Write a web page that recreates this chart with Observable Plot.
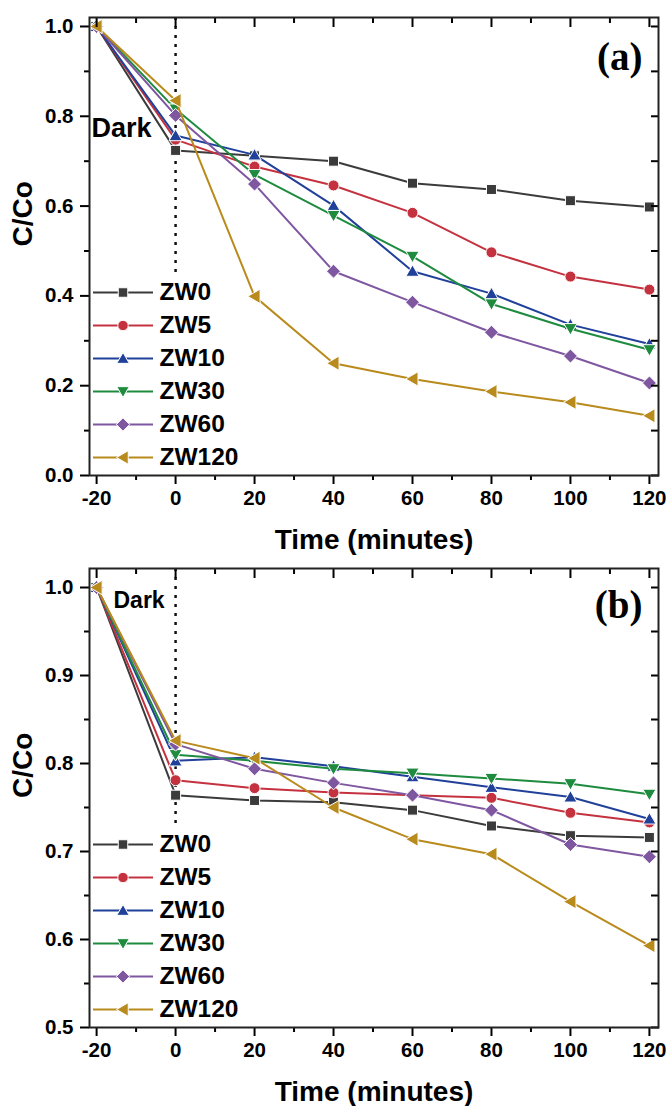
<!DOCTYPE html>
<html><head><meta charset="utf-8">
<script src="https://cdn.jsdelivr.net/npm/d3@7"></script>
<script src="https://cdn.jsdelivr.net/npm/@observablehq/plot@0.6"></script>
<style>body{margin:0;background:#fff} #chart svg{display:block}</style>
</head><body><div id="chart"></div>
<script>
// ---- data ----
const times = [-20, 0, 20, 40, 60, 80, 100, 120];
const seriesNames = ["ZW0", "ZW5", "ZW10", "ZW30", "ZW60", "ZW120"];
const seriesColors = ["#3b3b3b", "#c4323f", "#20409a", "#1e8b3f", "#7f57a1", "#b98a1c"];

// panel (a)
const a_ZW0   = [1.0, 0.724, 0.712, 0.700, 0.651, 0.637, 0.612, 0.598];
const a_ZW5   = [1.0, 0.748, 0.688, 0.646, 0.585, 0.497, 0.443, 0.414];
const a_ZW10  = [1.0, 0.757, 0.714, 0.601, 0.455, 0.405, 0.336, 0.293];
const a_ZW30  = [1.0, 0.816, 0.670, 0.579, 0.488, 0.382, 0.327, 0.280];
const a_ZW60  = [1.0, 0.802, 0.649, 0.455, 0.386, 0.319, 0.266, 0.206];
const a_ZW120 = [1.0, 0.835, 0.399, 0.250, 0.215, 0.187, 0.163, 0.133];

// panel (b)
const b_ZW0   = [1.0, 0.764, 0.758, 0.756, 0.747, 0.729, 0.718, 0.716];
const b_ZW5   = [1.0, 0.781, 0.772, 0.767, 0.764, 0.761, 0.744, 0.733];
const b_ZW10  = [1.0, 0.803, 0.807, 0.797, 0.785, 0.773, 0.762, 0.737];
const b_ZW30  = [1.0, 0.810, 0.803, 0.794, 0.789, 0.783, 0.777, 0.765];
const b_ZW60  = [1.0, 0.822, 0.794, 0.778, 0.764, 0.747, 0.708, 0.694];
const b_ZW120 = [1.0, 0.826, 0.806, 0.750, 0.714, 0.697, 0.643, 0.593];

const xMajor = [-20, 0, 20, 40, 60, 80, 100, 120];
const xMinor = [-10, 10, 30, 50, 70, 90, 110];
const a_yMajor = [0.0, 0.2, 0.4, 0.6, 0.8, 1.0];
const a_yMinor = [0.1, 0.3, 0.5, 0.7, 0.9];
const b_yMajor = [0.5, 0.6, 0.7, 0.8, 0.9, 1.0];
const b_yMinor = [0.55, 0.65, 0.75, 0.85, 0.95];
const darkLine = [0];
const darkLabel = ["Dark"];
const xTitle = ["Time (minutes)"];
const yTitle = ["C/Co"];

// ---- symbols ----
const R = s => Math.sqrt(s / Math.PI);
const symSquare = {draw(c, s) { const a = R(s); c.moveTo(-a, -a); c.lineTo(a, -a); c.lineTo(a, a); c.lineTo(-a, a); c.closePath(); }};
const symCircle = {draw(c, s) { const a = R(s); c.moveTo(a, 0); c.arc(0, 0, a, 0, 2 * Math.PI); }};
const symTriUp = {draw(c, s) { const a = R(s); c.moveTo(0, -a * 1.05); c.lineTo(a * 1.1, a * 0.85); c.lineTo(-a * 1.1, a * 0.85); c.closePath(); }};
const symTriDown = {draw(c, s) { const a = R(s); c.moveTo(0, a * 1.05); c.lineTo(a * 1.1, -a * 0.85); c.lineTo(-a * 1.1, -a * 0.85); c.closePath(); }};
const symDiamond = {draw(c, s) { const a = R(s); c.moveTo(0, -a); c.lineTo(a, 0); c.lineTo(0, a); c.lineTo(-a, 0); c.closePath(); }};
const symTriLeft = {draw(c, s) { const a = R(s); c.moveTo(-a * 1.05, 0); c.lineTo(a * 0.85, -a * 1.1); c.lineTo(a * 0.85, a * 1.1); c.closePath(); }};
const seriesSymbols = [symSquare, symCircle, symTriUp, symTriDown, symDiamond, symTriLeft];
const seriesR = [5, 5.5, 6, 6, 7, 6.5];
const legendLine = {draw(c) { c.moveTo(-30, 0); c.lineTo(30, 0); }};
const legendBox = {draw(c) { c.rect(0, -203, 152, 203); }};

const sans = "'Liberation Sans', Arial, sans-serif";
const tickFmt = d => String(d);

function panel(cfg) {
  const rows = seriesNames.map((name, i) => times.map((t, j) => ({t, v: cfg.values[i][j], s: name})));
  const marks = [
    Plot.ruleX(darkLine, {stroke: "#111", strokeWidth: 2.5, strokeDasharray: "3,6"}),
    Plot.dot(["box"], {frameAnchor: "bottom-left", symbol: legendBox, fill: "white", stroke: "none"}),
  ];
  rows.forEach((d, i) => {
    marks.push(Plot.line(d, {x: "t", y: "v", stroke: seriesColors[i], strokeWidth: 2}));
    marks.push(Plot.dot(d, {x: "t", y: "v", symbol: seriesSymbols[i], r: seriesR[i], fill: seriesColors[i], stroke: "white", strokeWidth: 1}));
  });
  // legend
  seriesNames.forEach((name, i) => {
    const dy = -18 - 33 * (seriesNames.length - 1 - i);
    marks.push(Plot.dot([name], {frameAnchor: "bottom-left", dx: 33.5, dy, symbol: legendLine, fill: "none", stroke: seriesColors[i], strokeWidth: 2}));
    marks.push(Plot.dot([name], {frameAnchor: "bottom-left", dx: 33.5, dy, symbol: seriesSymbols[i], r: seriesR[i] * 0.95, fill: seriesColors[i], stroke: "white", strokeWidth: 1}));
    marks.push(Plot.text([name], {frameAnchor: "bottom-left", dx: 70, dy, text: d => d, textAnchor: "start", lineAnchor: "middle", fontSize: 24.5, fontWeight: "bold", fill: "#000"}));
  });
  marks.push(
    Plot.text(darkLabel, {frameAnchor: "top-left", dx: cfg.darkDx, dy: cfg.darkDy, text: d => d, textAnchor: "start", lineAnchor: "bottom", fontSize: cfg.darkSize, fontWeight: "bold", fill: "#000"}),
    Plot.text([cfg.tag], {frameAnchor: "top-right", dx: -16, dy: cfg.tagDy, text: d => d, textAnchor: "end", lineAnchor: "bottom", fontSize: 39, fontWeight: "bold", fontFamily: "'Liberation Serif', 'Times New Roman', serif", fill: "#000"}),
    // axes
    Plot.axisX(xMajor, {anchor: "bottom", tickSize: 9, tickPadding: 6, strokeWidth: 2, fontSize: 20.5, label: null, tickFormat: tickFmt}),
    Plot.axisX(xMinor, {anchor: "bottom", tickSize: 5, strokeWidth: 2, label: null, tickFormat: () => ""}),
    Plot.axisX(xMajor, {anchor: "top", tickSize: 9, dy: 9, strokeWidth: 2, label: null, tickFormat: () => ""}),
    Plot.axisX(xMinor, {anchor: "top", tickSize: 5, dy: 5, strokeWidth: 2, label: null, tickFormat: () => ""}),
    Plot.axisY(cfg.yMajor, {anchor: "left", tickSize: 9, tickPadding: 7, strokeWidth: 2, fontSize: 20.5, label: null, tickFormat: d3.format(".1f")}),
    Plot.axisY(cfg.yMinor, {anchor: "left", tickSize: 5, strokeWidth: 2, label: null, tickFormat: () => ""}),
    Plot.axisY(cfg.yMajor, {anchor: "right", tickSize: 8, dx: -8, strokeWidth: 2, label: null, tickFormat: () => ""}),
    Plot.axisY(cfg.yMinor, {anchor: "right", tickSize: 8, dx: -8, strokeWidth: 2, label: null, tickFormat: () => ""}),
    Plot.frame({stroke: "#222", strokeWidth: 2}),
    Plot.text(xTitle, {frameAnchor: "bottom", dy: 73, text: d => d, lineAnchor: "bottom", fontSize: 28, fontWeight: "bold", fill: "#000"}),
    Plot.text(yTitle, {frameAnchor: "left", dx: -66, rotate: -90, text: d => d, lineAnchor: "middle", fontSize: 28, fontWeight: "bold", fill: "#000"})
  );
  return Plot.plot({
    width: 668,
    height: cfg.height,
    marginTop: cfg.marginTop,
    marginBottom: cfg.marginBottom,
    marginLeft: 89,
    marginRight: 10,
    style: {fontFamily: sans, fontWeight: "bold", fontSize: "20px", color: "#000", background: "#fff", overflow: "visible"},
    x: {domain: [-21.8, 122.3]},
    y: {domain: cfg.yDomain},
    marks
  });
}

const chart = document.getElementById("chart");
chart.append(panel({
  values: [a_ZW0, a_ZW5, a_ZW10, a_ZW30, a_ZW60, a_ZW120],
  yDomain: [0, 1.02], yMajor: a_yMajor, yMinor: a_yMinor,
  height: 556, marginTop: 17, marginBottom: 81,
  tag: "(a)", tagDy: 52, darkDx: 2, darkDy: 119, darkSize: 27
}));
chart.append(panel({
  values: [b_ZW0, b_ZW5, b_ZW10, b_ZW30, b_ZW60, b_ZW120],
  yDomain: [0.5, 1.0216], yMajor: b_yMajor, yMinor: b_yMinor,
  height: 550, marginTop: 12, marginBottom: 79,
  tag: "(b)", tagDy: 49, darkDx: 24, darkDy: 39, darkSize: 23
}));
</script>
</body></html>
